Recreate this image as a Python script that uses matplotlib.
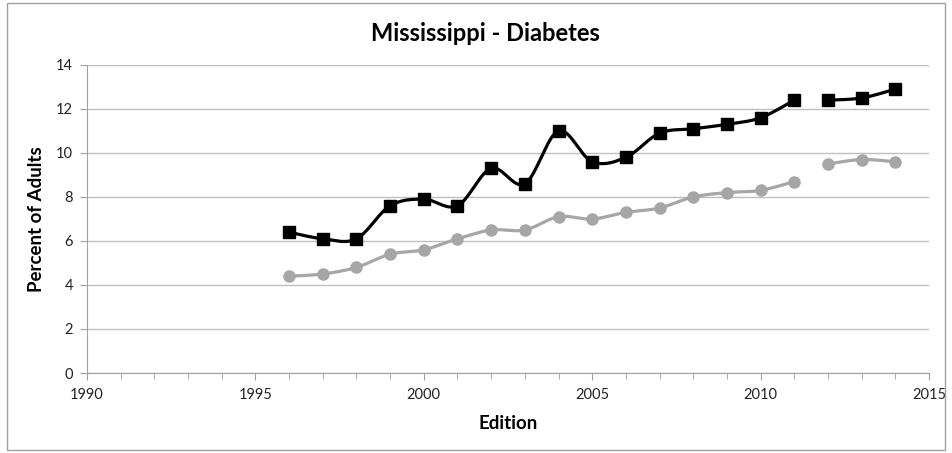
import numpy as np
import matplotlib
matplotlib.use("Agg")
import matplotlib.pyplot as plt
from matplotlib.patches import Rectangle

plt.rcParams['font.family'] = ['Lato', 'DejaVu Sans']

# data
years_a = [1996, 1997, 1998, 1999, 2000, 2001, 2002, 2003, 2004, 2005, 2006,
           2007, 2008, 2009, 2010, 2011]
years_b = [2012, 2013, 2014]
black_a = [6.4, 6.1, 6.1, 7.6, 7.9, 7.6, 9.3, 8.6, 11.0, 9.6, 9.8,
           10.9, 11.1, 11.3, 11.6, 12.4]
black_b = [12.4, 12.5, 12.9]
gray_a = [4.4, 4.5, 4.8, 5.4, 5.6, 6.1, 6.5, 6.5, 7.1, 7.0, 7.3,
          7.5, 8.0, 8.2, 8.3, 8.7]
gray_b = [9.5, 9.7, 9.6]
x_ticks = [1990, 1995, 2000, 2005, 2010, 2015]
y_ticks = [0, 2, 4, 6, 8, 10, 12, 14]


def smooth(x, y, n=20):
    # Catmull-Rom style smoothing like Excel's smoothed line
    x = np.asarray(x, float)
    y = np.asarray(y, float)
    if len(x) < 3:
        return x, y
    px = np.concatenate([[x[0]], x, [x[-1]]])
    py = np.concatenate([[y[0]], y, [y[-1]]])
    xs, ys = [], []
    t = np.linspace(0, 1, n)
    for i in range(1, len(px) - 2):
        p0, p1, p2, p3 = (np.array([px[j], py[j]]) for j in range(i - 1, i + 3))
        c1 = p1 + (p2 - p0) / 6
        c2 = p2 - (p3 - p1) / 6
        b = ((1 - t)[:, None] ** 3 * p1 + 3 * ((1 - t) ** 2 * t)[:, None] * c1
             + 3 * ((1 - t) * t ** 2)[:, None] * c2 + (t ** 3)[:, None] * p2)
        xs.extend(b[:, 0])
        ys.extend(b[:, 1])
    return np.array(xs), np.array(ys)


fig = plt.figure(figsize=(9.52, 4.53), dpi=100)
ax = fig.add_axes([0.0914, 0.1766, 0.8844, 0.68])

gray = "#A6A6A6"
for xs, ys in [(years_a, gray_a), (years_b, gray_b)]:
    sx, sy = smooth(xs, ys)
    ax.plot(sx, sy, color=gray, lw=2.3, zorder=3)
    ax.plot(xs, ys, "o", color=gray, ms=8, zorder=4)
for xs, ys in [(years_a, black_a), (years_b, black_b)]:
    sx, sy = smooth(xs, ys)
    ax.plot(sx, sy, color="black", lw=2.3, zorder=5)
    ax.plot(xs, ys, "s", color="black", ms=8.5, zorder=6)

ax.set_xlim(1990, 2015)
ax.set_ylim(0, 14)
ax.set_xticks(x_ticks)
ax.set_xticks(range(1990, 2016), minor=True)
ax.set_yticks(y_ticks)
ax.yaxis.grid(True, color="#BFBFBF", lw=1)
ax.set_axisbelow(True)
for s in ["top", "right"]:
    ax.spines[s].set_visible(False)
for s in ["left", "bottom"]:
    ax.spines[s].set_color("#A0A0A0")
ax.tick_params(axis="both", which="both", color="#A0A0A0", labelsize=10.5,
               labelcolor="#222222")
ax.tick_params(axis="x", which="major", length=5, pad=6)
ax.tick_params(axis="x", which="minor", length=4)
ax.tick_params(axis="y", length=5, pad=5)

ax.set_xlabel("Edition", fontsize=13.5, fontweight="bold", labelpad=9)
ax.set_ylabel("Percent of Adults", fontsize=13.5, fontweight="bold", labelpad=8)
fig.text(0.51, 0.925, "Mississippi - Diabetes", ha="center", va="center",
         fontsize=17, fontweight="bold")

fig.patches.append(Rectangle((0.007, 0.006), 0.986, 0.988, transform=fig.transFigure,
                             fill=False, edgecolor="#A0A0A0", lw=1))

fig.savefig("out.png", dpi=100)
